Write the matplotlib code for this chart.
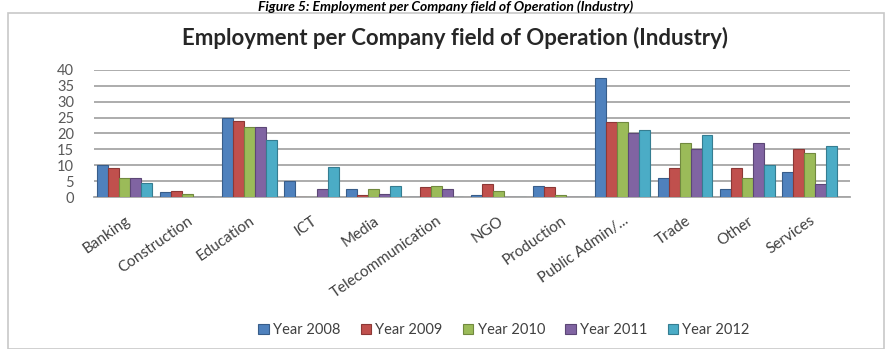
import numpy as np
import matplotlib.pyplot as plt
from matplotlib.patches import Rectangle

# Employment per company field of operation, 2008-2012
categories = ["Banking", "Construction", "Education", "ICT", "Media",
              "Telecommunication", "NGO", "Production", "Public Admin/...",
              "Trade", "Other", "Services"]
years = ["Year 2008", "Year 2009", "Year 2010", "Year 2011", "Year 2012"]

y2008 = [10, 1.5, 25, 5, 2.5, 0, 0.5, 3.5, 37.5, 6, 2.5, 8]
y2009 = [9, 2, 24, 0, 0.5, 3, 4, 3, 23.5, 9, 9, 15]
y2010 = [6, 0.8, 22, 0, 2.5, 3.5, 2, 0.5, 23.5, 17, 6, 14]
y2011 = [6, 0, 22, 2.5, 1, 2.5, 0, 0, 20, 15, 17, 4]
y2012 = [4.5, 0, 18, 9.5, 3.5, 0, 0, 0, 21, 19.5, 10, 16]
series = [y2008, y2009, y2010, y2011, y2012]

colors = ["#4F81BD", "#C0504D", "#9BBB59", "#8064A2", "#4BACC6"]
edges = ["#385D8A", "#8C3836", "#71893F", "#5C4776", "#357D91"]

plt.rcParams['font.family'] = ['Lato', 'DejaVu Sans']

fig = plt.figure(figsize=(8.92, 3.49), dpi=100)
ax = fig.add_axes([0.105, 0.4355, 0.848, 0.364])

# figure caption above the chart frame
fig.text(0.5, 0.999, "Figure 5: Employment per Company field of Operation (Industry)",
         ha="center", va="top", fontsize=10, fontweight="bold",
         fontstyle="italic", color="black")

# chart frame
fig.patches.append(Rectangle((8 / 892, 0), 876 / 892, 1 - 13 / 349,
                             transform=fig.transFigure, fill=False,
                             edgecolor="#c8c8c8", linewidth=1.2))

fig.text(0.51, 1 - 38 / 349, "Employment per Company field of Operation (Industry)",
         ha="center", va="center", fontsize=16, fontweight="bold", color="#262626")

x = np.arange(len(categories))
w = 0.176
for i, (vals, name) in enumerate(zip(series, years)):
    ax.bar(x + (i - 2) * w, vals, width=w, color=colors[i], edgecolor=edges[i],
           linewidth=0.8, label=name, zorder=3)

ax.set_xlim(-0.5, len(categories) - 0.35)
ax.set_ylim(0, 40)
ax.set_yticks(np.arange(0, 41, 5))
ax.yaxis.grid(True, color="#a6a6a6", linewidth=1.3, zorder=0)
ax.set_axisbelow(True)
for s in ["top", "right", "left"]:
    ax.spines[s].set_visible(False)
ax.spines["bottom"].set_color("#a6a6a6")
ax.spines["bottom"].set_linewidth(1.3)
ax.tick_params(axis="both", length=0, colors="#595959")
ax.tick_params(axis="y", labelsize=10.5, pad=14)

ax.set_xticks(x)
ax.set_xticklabels(categories, rotation=35, ha="right", rotation_mode="anchor",
                   fontsize=11, color="#404040")
ax.tick_params(axis="x", pad=12)

fig.legend(loc="center", bbox_to_anchor=(0.565, 1 - 330 / 349), ncol=5,
           frameon=False, fontsize=10.5, handlelength=0.7, handleheight=0.7,
           handletextpad=0.3, columnspacing=1.4, labelcolor="#404040")

fig.savefig("out.png", dpi=100)
